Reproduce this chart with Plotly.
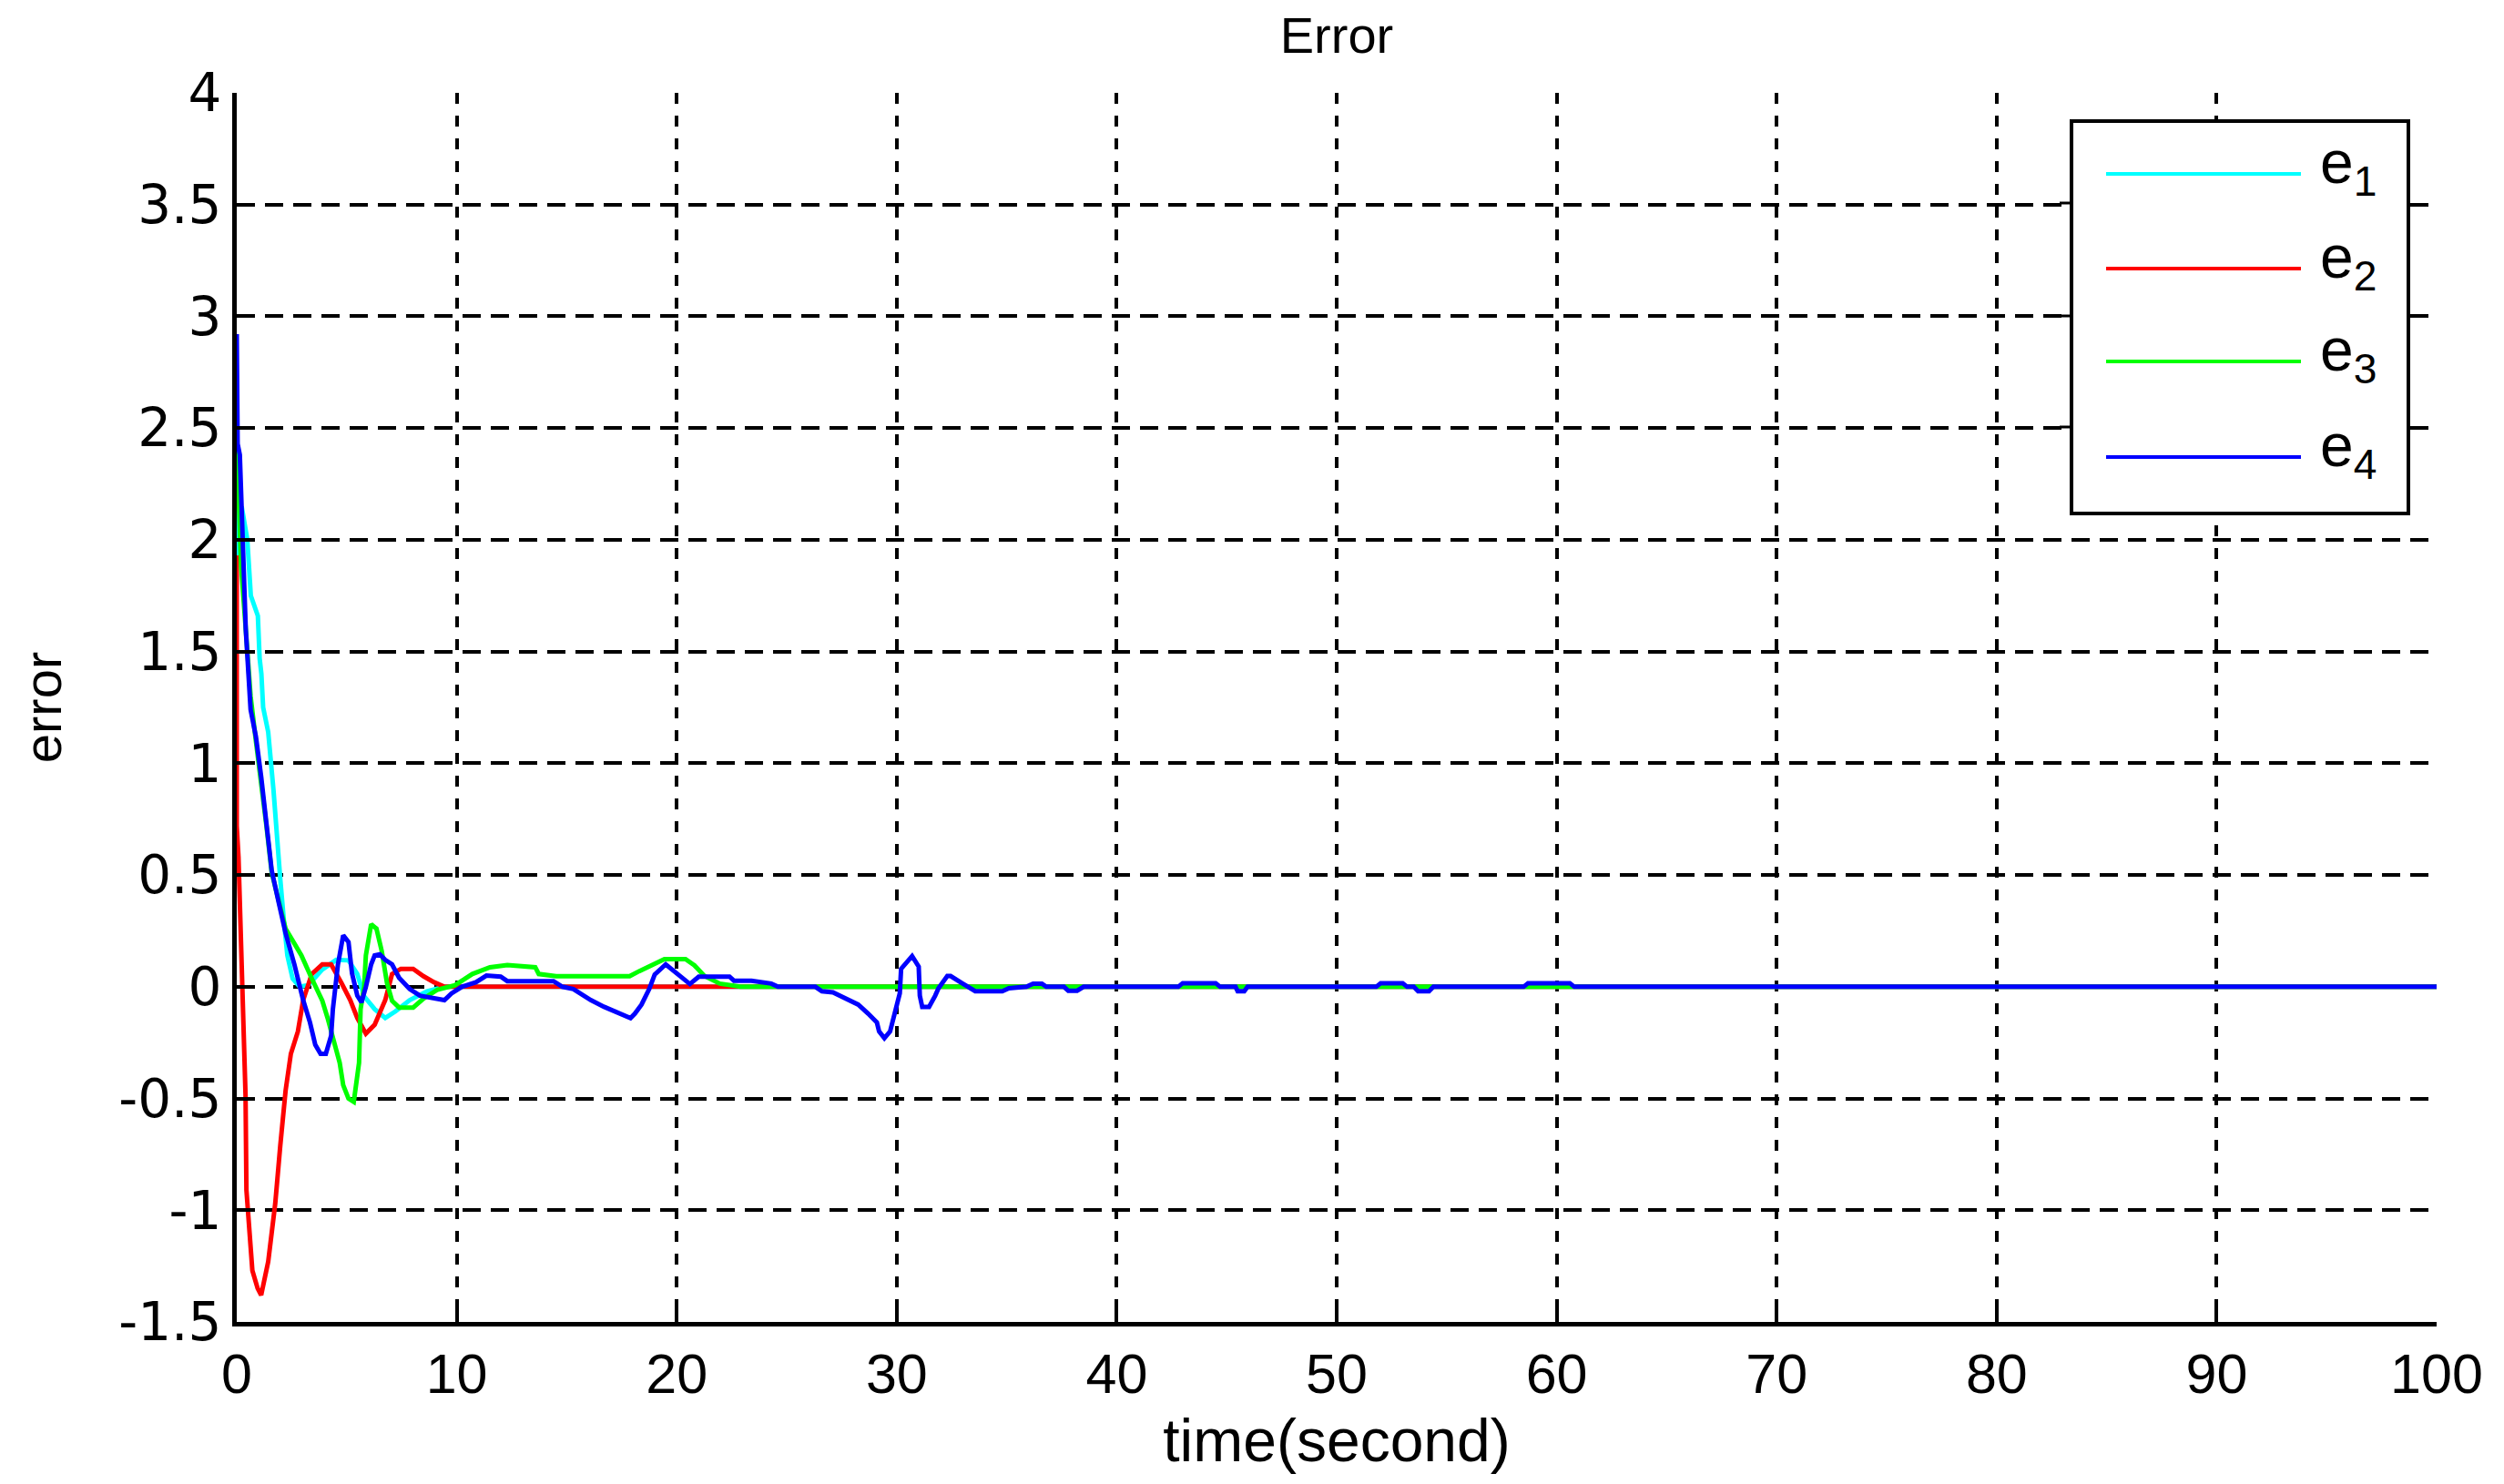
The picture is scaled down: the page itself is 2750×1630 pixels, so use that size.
'''
    Error signals e1..e4 versus time (MATLAB style line chart).
'''
import plotly.graph_objects as go

# ---- data ----
t_e1 = [0, 0, 0.24, 0.48, 0.64, 0.8, 0.96, 1.04, 1.12, 1.2, 1.43, 1.67, 1.83, 1.98, 2.14, 2.30,
        2.54, 2.86, 3.25, 3.89, 4.52, 5.08, 5.48, 5.79, 6.27, 6.75, 7.22, 7.86, 8.65, 9.44, 100]
e1 = [1.92, 2.14, 2.14, 2.0, 1.75, 1.71, 1.66, 1.47, 1.40, 1.25, 1.14, 0.88, 0.64, 0.48, 0.30, 0.14,
      0.037, 0.0, 0.007, 0.077, 0.12, 0.118, 0.057, -0.043, -0.10, -0.14, -0.11, -0.06, -0.02, 0, 0]

t_e2 = [0, 0, 0.08, 0.32, 0.40, 0.44, 0.71, 0.95, 1.11, 1.43, 1.75, 1.98, 2.22, 2.46, 2.78, 3.02,
        3.41, 3.89, 4.29, 4.76, 5.16, 5.48, 5.87, 6.27, 6.75, 7.06, 7.46, 8.02, 8.49, 8.97, 9.44, 100]
e2 = [1.93, 0.72, 0.58, -0.36, -0.485, -0.91, -1.27, -1.35, -1.38, -1.23, -0.97, -0.71, -0.465, -0.30,
      -0.20, -0.06, 0.057, 0.10, 0.10, 0.017, -0.06, -0.14, -0.21, -0.17, -0.06, 0.057, 0.08, 0.08,
      0.047, 0.02, 0, 0]

t_e3 = [0, 0.2, 0.41, 0.63, 0.87, 1.11, 1.35, 1.59, 1.9, 2.22, 2.46, 2.94, 3.41, 3.89, 4.13, 4.44,
        4.68, 4.84, 5.08, 5.32, 5.56, 5.63, 5.79, 5.87, 6.03, 6.11, 6.35, 6.59, 6.83, 7.06, 7.38,
        8.02, 8.49, 9.13, 9.92, 10.71, 11.51, 12.3, 13.57, 13.73, 14.52, 17.86, 18.3, 18.9, 19.44,
        20.4, 20.8, 21.26, 21.96, 22.9, 100]
e3 = [2.43, 1.88, 1.6, 1.3, 1.1, 0.92, 0.72, 0.51, 0.38, 0.26, 0.22, 0.14, 0.037, -0.063, -0.14,
      -0.26, -0.34, -0.44, -0.50, -0.515, -0.34, -0.10, 0.0, 0.14, 0.22, 0.28, 0.26, 0.16, 0.017,
      -0.063, -0.093, -0.093, -0.053, -0.013, 0.007, 0.057, 0.087, 0.097, 0.087, 0.057, 0.047,
      0.047, 0.07, 0.098, 0.124, 0.124, 0.096, 0.048, 0.014, 0, 0]

t_e4 = [0, 0.04, 0.14, 0.28, 0.41, 0.63, 0.87, 1.11, 1.35, 1.59, 1.9, 2.22, 2.62, 3.02, 3.33, 3.57,
        3.81, 4.05, 4.29, 4.37, 4.6, 4.84, 5.08, 5.24, 5.48, 5.67, 5.87, 6.11, 6.27, 6.5, 6.75, 7.06,
        7.38, 7.86, 8.33, 8.97, 9.44, 9.76, 10.24, 10.87, 11.35, 12.0, 12.3, 14.4, 14.8, 15.3, 16.1,
        16.7, 17.4, 17.9, 18.1, 18.4, 18.75, 19.0, 19.5, 20.1, 20.6, 21.0, 22.4, 22.6, 23.4, 24.3,
        24.6, 26.3, 26.6, 27.1, 27.8, 28.25, 28.7, 29.1, 29.2, 29.44, 29.7, 29.86, 30.0, 30.14, 30.2,
        30.6, 30.7, 31.0, 31.05, 31.16, 31.47, 31.75, 31.9, 32.3, 32.45, 33.0, 33.36, 33.57, 34.8,
        35.1, 35.9, 36.2, 36.6, 36.8, 37.6, 37.8, 38.2, 38.5, 42.8, 43.0, 44.5, 44.7, 45.4, 45.5,
        45.8, 45.95, 51.8, 52.0, 53.0, 53.2, 53.5, 53.7, 54.2, 54.4, 58.5, 58.7, 60.6, 60.8, 100]
e4 = [2.92, 2.43, 2.38, 1.92, 1.6, 1.24, 1.12, 0.94, 0.74, 0.52, 0.38, 0.24, 0.10, -0.06, -0.16,
      -0.26, -0.30, -0.30, -0.22, -0.10, 0.10, 0.23, 0.20, 0.06, -0.04, -0.07, 0.0, 0.10, 0.14,
      0.145, 0.12, 0.10, 0.04, -0.01, -0.04, -0.05, -0.06, -0.03, 0, 0.02, 0.05, 0.045, 0.025,
      0.025, 0.0, -0.01, -0.06, -0.09, -0.12, -0.14, -0.12, -0.08, -0.01, 0.055, 0.10, 0.05, 0.012,
      0.045, 0.045, 0.027, 0.027, 0.014, 0, 0, -0.02, -0.025, -0.06, -0.08, -0.12, -0.16, -0.2,
      -0.23, -0.2, -0.14, -0.1, -0.03, 0.08, 0.12, 0.137, 0.09, -0.04, -0.09, -0.09, -0.04, -0.007,
      0.048, 0.048, 0.014, -0.007, -0.02, -0.02, -0.007, 0, 0.014, 0.014, 0, 0, -0.018, -0.018, 0,
      0, 0.016, 0.016, 0, 0, -0.02, -0.02, 0, 0, 0.016, 0.016, 0, 0, -0.02, -0.02, 0, 0, 0.016,
      0.016, 0, 0]

series_t = [t_e1, t_e2, t_e3, t_e4]
series_v = [e1, e2, e3, e4]
series_names = ['e<sub>1</sub>', 'e<sub>2</sub>', 'e<sub>3</sub>', 'e<sub>4</sub>']
colors = ['#00FFFF', '#FF0000', '#00FF00', '#0000FF']

x_ticks = list(range(0, 101, 10))
y_ticks = [-1.5, -1, -0.5, 0, 0.5, 1, 1.5, 2, 2.5, 3, 3.5, 4]
y_tick_text = ['-1.5', '-1', '-0.5', '0', '0.5', '1', '1.5', '2', '2.5', '3', '3.5', '4']

# ---- page geometry (pixels); the html body adds an 8px margin around the figure ----
PAGE_OFF = 8
W, H = 2750 - 2 * PAGE_OFF, 1630 - 2 * PAGE_OFF
L, R, T, B = 252, 66, 94, 170


def px_x(p):
    # page pixel -> paper fraction
    return (p - PAGE_OFF - L) / (W - L - R)


def px_y(p):
    return (H - B - (p - PAGE_OFF)) / (H - T - B)


fig = go.Figure()
for t, v, name, c in zip(series_t, series_v, series_names, colors):
    fig.add_trace(go.Scatter(x=t, y=v, mode='lines', name=name,
                             line=dict(color=c, width=5), showlegend=False))

fig.update_layout(
    width=W, height=H, autosize=False,
    margin=dict(l=L, r=R, t=T, b=B, autoexpand=False),
    plot_bgcolor='white', paper_bgcolor='white',
    font=dict(family='Liberation Sans, Arial, sans-serif', color='black'),
    title=dict(text='Error', x=0.5, xref='paper', xanchor='center',
               y=1 - 30 / H, yanchor='middle', automargin=False,
               font=dict(size=56, color='black')),
)

fig.update_xaxes(
    range=[0, 100], tickvals=x_ticks, ticks='inside', ticklen=20, tickwidth=4, tickcolor='black',
    showline=True, linecolor='black', linewidth=5, mirror=False, automargin=False,
    showgrid=True, gridcolor='black', gridwidth=3.5, griddash='12px,13px', zeroline=False,
    tickfont=dict(size=61, family='Liberation Sans, Arial, sans-serif'),
    title=dict(text='time(second)', font=dict(size=66), standoff=18),
)
fig.update_yaxes(
    range=[-1.5, 4], tickvals=y_ticks, ticktext=y_tick_text, ticks='inside', ticklen=20,
    tickwidth=4, tickcolor='black',
    showline=True, linecolor='black', linewidth=5, mirror=False, automargin=False,
    showgrid=True, gridcolor='black', gridwidth=3.5, griddash='20px,11px', zeroline=False,
    tickfont=dict(size=58, family='DejaVu Sans, sans-serif'),
    title=dict(text='error', font=dict(size=58), standoff=45),
)

# ---- legend box drawn by hand (MATLAB style, long line samples) ----
fig.add_shape(type='rect', xref='paper', yref='paper',
              x0=px_x(2275), x1=px_x(2645), y0=px_y(564), y1=px_y(133),
              line=dict(color='black', width=4), fillcolor='white', layer='above')
for py in [223, 347, 469]:
    fig.add_shape(type='line', xref='paper', yref='paper',
                  x0=px_x(2262), x1=px_x(2275), y0=px_y(py), y1=px_y(py),
                  line=dict(color='black', width=3), layer='above')

legend_rows = [191, 295, 397, 502]
for py, name, c in zip(legend_rows, series_names, colors):
    fig.add_shape(type='line', xref='paper', yref='paper',
                  x0=px_x(2313), x1=px_x(2527), y0=px_y(py), y1=px_y(py),
                  line=dict(color=c, width=4), layer='above')
    fig.add_annotation(text=name, xref='paper', yref='paper', x=px_x(2546), y=px_y(py - 8),
                       xanchor='left', yanchor='middle', showarrow=False,
                       font=dict(size=66, color='black'))

fig.write_html('out.html')
